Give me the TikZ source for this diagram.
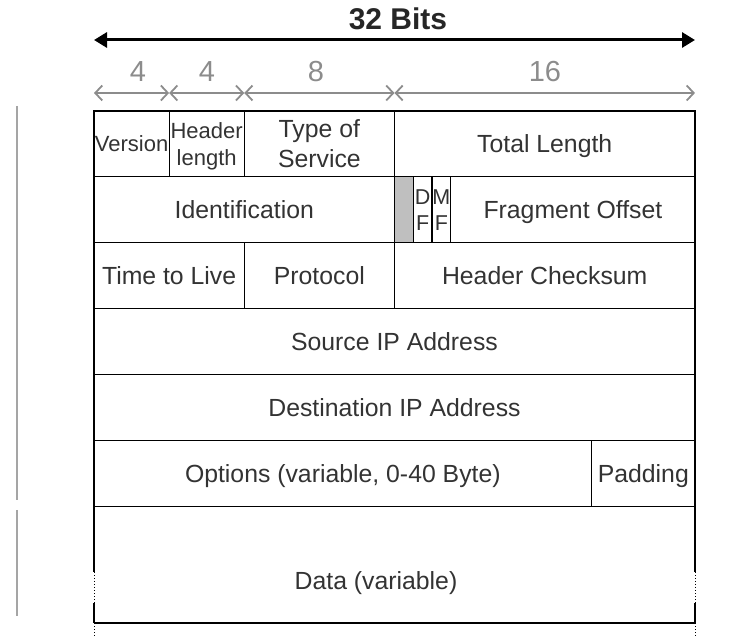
\documentclass[tikz,border=0pt]{standalone}
\usepackage{fontspec}
\setmainfont{Liberation Sans}
\usetikzlibrary{arrows.meta,calc}
\definecolor{textgray}{RGB}{51,51,51}
\definecolor{rulegray}{RGB}{140,140,140}
\definecolor{sidegray}{RGB}{165,165,165}
\definecolor{flaggray}{RGB}{191,191,191}
\tikzset{
  field/.style={
    draw=black,
    line width=1.2pt,
    inner sep=0pt,
    align=center,
    text=textgray,
    text depth=0pt,
    font=\fontsize{24.8}{30}\selectfont
  },
  small field/.style={font=\fontsize{22}{27}\selectfont},
  flag field/.style={font=\fontsize{21.5}{26}\selectfont},
  bits flow/.style={
    {Straight Barb[length=7pt,width=15pt]}-{Straight Barb[length=7pt,width=15pt]},
    draw=rulegray,line width=1.8pt
  },
  width flow/.style={
    {Triangle[length=13pt,width=15pt]}-{Triangle[length=13pt,width=15pt]},
    draw=black,line width=3pt
  },
  bitlabel/.style={text=rulegray,font=\fontsize{29}{34}\selectfont},
  side rule/.style={draw=sidegray,line width=1.8pt},
  data side/.style={draw=black,line width=1.2pt}
}
% field: name, first bit, last bit, row, text
\newcommand{\bw}{18.78}
\newcommand{\field}[6][]{%
  \node[field,minimum width={(#4-#3)*\bw*1pt},minimum height=65.9pt,#1] (#2)
    at ({94+(#3+#4)/2*\bw},{111+(#5+.5)*65.9}) {#6};%
}

\begin{document}
\begin{tikzpicture}[x=1pt,y=-1pt]
  \useasboundingbox (0,0) rectangle (748,636);

  % Width of a header line.
  \node[font=\bfseries\fontsize{30}{36}\selectfont,text=black!85] (title) at (398,19) {32 Bits};
  \coordinate (w0) at (94,40);
  \coordinate (w32) at (695,40);
  \draw[width flow] (w0) -- (w32);

  % Bit widths of the first line.
  \foreach \b in {0,4,8,16,32} {
    \coordinate (b\b) at ({94+\b*\bw},93);
  }
  \draw[bits flow] (b0) -- (b4);
  \draw[bits flow] (b4) -- (b8);
  \draw[bits flow] (b8) -- (b16);
  \draw[bits flow] (b16) -- (b32);
  \node[bitlabel] (n1) at (138,72) {4};
  \node[bitlabel] (n2) at (207,72) {4};
  \node[bitlabel] (n3) at (316,72) {8};
  \node[bitlabel] (n4) at (545,72) {16};

  % Header fields.
  \field[small field]{version}{0}{4}{0}{Version}
  \field[small field]{ihl}{4}{8}{0}{Header\\length}
  \field{tos}{8}{16}{0}{Type of\\Service}
  \field{length}{16}{32}{0}{Total Length}

  \field{ident}{0}{16}{1}{Identification}
  \field[fill=flaggray]{reserved}{16}{17}{1}{}
  \field[flag field]{df}{17}{18}{1}{D\\F}
  \field[flag field]{mf}{18}{19}{1}{M\\F}
  \field{offset}{19}{32}{1}{Fragment Offset}

  \field{ttl}{0}{8}{2}{Time to Live}
  \field{proto}{8}{16}{2}{Protocol}
  \field{checksum}{16}{32}{2}{Header Checksum}

  \field{source}{0}{32}{3}{Source IP Address}
  \field{dest}{0}{32}{4}{Destination IP Address}

  \field{options}{0}{26.5}{5}{Options (variable, 0-40 Byte)}
  \field{padding}{26.5}{32}{5}{Padding}

  % Data part, open at the bottom.
  \node[text=textgray,text depth=0pt,font=\fontsize{24.8}{30}\selectfont] (data) at (376,581) {Data (variable)};
  \foreach \x in {94,695} {
    \draw[data side] (\x,506) -- (\x,572);
    \draw[data side,line width=1pt,dotted] (\x,572) -- (\x,636);
    \draw[data side] (\x,603) -- (\x,623);
  }
  \draw[data side] (94,623) -- (695,623);

  % Side rules.
  \draw[side rule] (17,106) -- (17,500);
  \draw[side rule] (17,510) -- (17,616);
\end{tikzpicture}
\end{document}
